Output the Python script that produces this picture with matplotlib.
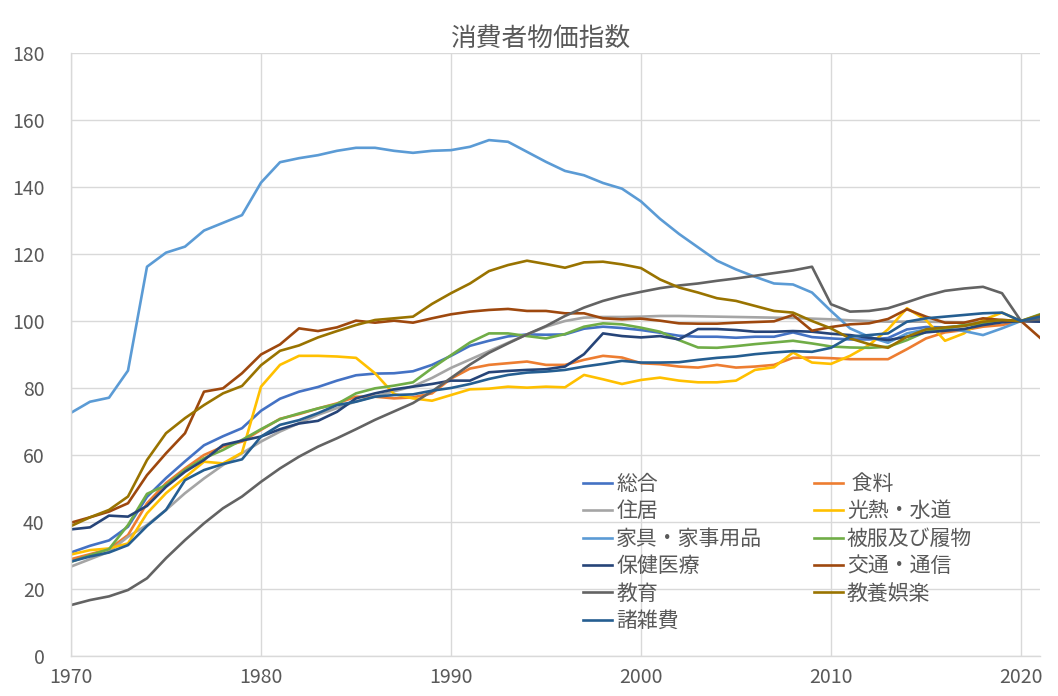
import matplotlib
matplotlib.use("Agg")
import matplotlib.pyplot as plt
import numpy as np

plt.rcParams['font.family'] = ['Noto Sans CJK JP', 'DejaVu Sans']

years = list(range(1970, 2022))

sogo = [30.9, 32.9, 34.5, 38.6, 47.5, 53.1, 58.1, 62.9, 65.6, 68.0,
        73.2, 76.8, 78.9, 80.3, 82.2, 83.8, 84.3, 84.4, 85.0, 86.9,
        89.6, 92.6, 94.1, 95.4, 96.0, 95.9, 96.0, 97.7, 98.3, 97.9,
        97.3, 96.5, 95.6, 95.3, 95.3, 95.0, 95.3, 95.3, 96.6, 95.2,
        94.8, 94.5, 94.5, 94.9, 97.5, 98.2, 98.1, 98.6, 99.5, 100.0,
        100.0, 99.8]
shokuryo = [28.9, 30.4, 31.9, 36.1, 45.6, 51.6, 56.0, 60.0, 62.5, 64.0,
            67.5, 70.8, 72.2, 73.9, 75.4, 77.4, 77.4, 76.9, 77.2, 78.4,
            82.8, 85.8, 86.9, 87.4, 87.9, 86.9, 86.9, 88.4, 89.6, 89.1,
            87.4, 87.1, 86.4, 86.1, 86.9, 86.1, 86.4, 86.9, 89.0, 89.1,
            88.9, 88.6, 88.6, 88.6, 91.6, 94.8, 96.6, 97.3, 98.3, 98.8,
            100.0, 100.0]
jukyo = [26.7, 28.9, 31.1, 35.6, 39.1, 43.6, 48.6, 53.0, 57.0, 60.5,
         64.0, 67.0, 69.5, 72.0, 74.0, 76.0, 77.5, 79.0, 80.5, 83.0,
         86.0, 88.5, 91.0, 93.5, 96.0, 98.3, 100.0, 101.0, 101.2, 101.2,
         101.3, 101.5, 101.5, 101.4, 101.3, 101.2, 101.1, 101.0, 100.9, 100.7,
         100.5, 100.2, 100.0, 99.8, 99.8, 99.8, 99.7, 99.6, 99.6, 99.8,
         100.0, 100.3]
konetsu = [30.3, 31.6, 32.1, 33.6, 42.6, 48.6, 53.3, 58.0, 57.5, 60.7,
           80.4, 86.9, 89.6, 89.6, 89.4, 89.0, 84.4, 78.2, 76.9, 76.2,
           77.9, 79.6, 79.8, 80.4, 80.1, 80.4, 80.2, 83.9, 82.6, 81.2,
           82.4, 83.1, 82.2, 81.7, 81.7, 82.2, 85.4, 86.2, 90.6, 87.6,
           87.2, 89.6, 92.8, 97.5, 103.8, 100.3, 94.1, 96.3, 100.3, 102.5,
           100.0, 101.0]
kagu = [72.6, 75.9, 77.1, 85.2, 116.2, 120.4, 122.2, 127.0, 129.3, 131.6,
        141.3, 147.4, 148.6, 149.5, 150.8, 151.7, 151.7, 150.8, 150.2, 150.8,
        151.0, 152.0, 154.0, 153.5, 150.5, 147.5, 144.8, 143.5, 141.2, 139.5,
        135.7, 130.5, 126.0, 122.0, 118.0, 115.4, 113.2, 111.2, 110.9, 108.5,
        103.0, 97.8, 95.3, 93.5, 96.3, 97.5, 97.8, 97.0, 95.8, 97.8,
        100.0, 100.5]
hifuku = [28.1, 30.1, 31.9, 39.1, 48.4, 51.0, 55.5, 59.0, 61.5, 64.5,
          67.7, 70.7, 72.4, 73.9, 75.2, 78.4, 79.9, 80.7, 81.7, 85.9,
          89.8, 93.6, 96.3, 96.3, 95.5, 94.8, 96.1, 98.3, 99.3, 99.0,
          98.0, 96.8, 94.3, 92.1, 92.0, 92.5, 93.1, 93.6, 94.1, 93.3,
          92.4, 92.1, 92.0, 92.3, 94.3, 96.8, 97.8, 98.8, 99.3, 99.8,
          100.0, 102.0]
hoken = [37.8, 38.4, 41.9, 41.6, 44.8, 50.5, 55.0, 58.5, 63.0, 64.3,
         65.5, 67.7, 69.4, 70.2, 72.9, 76.9, 78.4, 79.6, 80.4, 81.2,
         82.2, 82.2, 84.7, 85.1, 85.4, 85.6, 86.4, 90.1, 96.3, 95.5,
         95.1, 95.5, 94.5, 97.6, 97.6, 97.3, 96.8, 96.8, 97.0, 96.8,
         96.2, 95.8, 95.0, 94.3, 95.3, 96.6, 97.1, 97.6, 98.8, 99.6,
         100.0, 99.8]
kotsu = [39.8, 41.4, 43.1, 45.6, 54.0, 60.5, 66.5, 78.9, 79.9, 84.4,
         90.0, 93.0, 97.8, 97.0, 98.1, 100.1, 99.5, 100.1, 99.5, 100.8,
         102.0, 102.8, 103.3, 103.6, 103.0, 103.0, 102.3, 102.3, 100.8, 100.5,
         100.7, 100.1, 99.3, 99.2, 99.2, 99.5, 99.7, 99.9, 101.8, 97.1,
         98.2, 99.0, 99.3, 100.6, 103.5, 101.3, 99.5, 99.5, 100.8, 100.3,
         100.0, 95.0]
kyoiku = [15.2, 16.7, 17.8, 19.7, 23.2, 29.2, 34.6, 39.6, 44.1, 47.6,
          52.0, 56.0, 59.5, 62.5, 65.0, 67.7, 70.5, 73.0, 75.5, 79.0,
          83.0, 87.0, 90.5, 93.3, 96.0, 98.5, 101.5, 104.0, 106.0, 107.5,
          108.7, 109.8, 110.6, 111.2, 112.0, 112.7, 113.5, 114.3, 115.1, 116.2,
          105.0, 102.8, 103.0, 103.8, 105.6, 107.5, 109.0, 109.7, 110.2, 108.3,
          100.0, 100.5]
kyoyo = [38.8, 41.4, 43.6, 47.6, 58.5, 66.5, 71.0, 74.9, 78.4, 80.6,
         86.8, 91.1, 92.7, 95.1, 97.0, 98.8, 100.3, 100.8, 101.3, 105.1,
         108.3, 111.2, 114.9, 116.7, 118.0, 117.0, 115.9, 117.5, 117.7, 116.9,
         115.8, 112.4, 110.0, 108.5, 106.8, 106.0, 104.5, 103.0, 102.5, 100.0,
         97.8, 94.8, 93.1, 92.0, 95.3, 97.5, 98.1, 98.5, 99.8, 100.3,
         100.0, 101.8]
shozappi = [28.2, 29.7, 30.9, 33.1, 38.8, 43.6, 52.5, 55.5, 57.3, 58.7,
            65.5, 69.0, 70.4, 72.5, 74.9, 75.9, 77.4, 77.9, 78.1, 79.2,
            80.0, 81.2, 82.7, 83.9, 84.6, 84.9, 85.4, 86.4, 87.2, 88.1,
            87.6, 87.6, 87.7, 88.4, 89.0, 89.4, 90.1, 90.6, 91.0, 90.8,
            92.0, 95.3, 95.8, 96.3, 99.8, 100.8, 101.3, 101.8, 102.3, 102.5,
            100.0, 101.3]

labels = ['総合', ' 食料', '住居', '光熱・水道', '家具・家事用品', '被服及び履物',
          '保健医療', '交通・通信', '教育', '教養娯楽', '諸雑費']
series = [sogo, shokuryo, jukyo, konetsu, kagu, hifuku, hoken, kotsu, kyoiku, kyoyo, shozappi]
colors = ['#4472C4', '#ED7D31', '#A5A5A5', '#FFC000', '#5B9BD5', '#70AD47',
          '#264478', '#9E480E', '#636363', '#997300', '#255E91']

title = '消費者物価指数'
xticks = [1970, 1980, 1990, 2000, 2010, 2020]
yticks = list(range(0, 181, 20))

W, H = 1058, 696
fig = plt.figure(figsize=(W / 100, H / 100), dpi=100)
ax = fig.add_axes([71 / W, 40 / H, 969 / W, 603 / H])

handles = {}
for lab, s, c in zip(labels, series, colors):
    ln, = ax.plot(years, s, color=c, lw=1.9, solid_joinstyle='round')
    handles[lab] = ln

ax.set_xlim(1970, 2021)
ax.set_ylim(0, 180)
ax.set_xticks(xticks)
ax.set_yticks(yticks)
ax.grid(True, color='#D9D9D9', lw=1)
ax.set_axisbelow(True)
for sp in ['top', 'right']:
    ax.spines[sp].set_visible(False)
for sp in ['left', 'bottom']:
    ax.spines[sp].set_color('#D9D9D9')
    ax.spines[sp].set_linewidth(1)
ax.tick_params(axis='both', length=0, labelsize=14, colors='#595959')
ax.tick_params(axis='y', pad=19)
ax.tick_params(axis='x', pad=8)

fig.text(540 / W, 1 - 39 / H, title, ha='center', va='center', fontsize=18.5, color='#595959')

col1 = ['総合', '住居', '家具・家事用品', '保健医療', '教育', '諸雑費']
col2 = [' 食料', '光熱・水道', '被服及び履物', '交通・通信', '教養娯楽']
order = col1 + col2
leg = fig.legend([handles[l] for l in order], order, ncol=2, frameon=False,
                 loc='upper left', bbox_to_anchor=(583 / W, 1 - 473 / H),
                 fontsize=15, handlelength=1.4, handletextpad=0.2,
                 columnspacing=2.45, labelspacing=0.26, borderpad=0, borderaxespad=0)
for t in leg.get_texts():
    t.set_color('#595959')

fig.savefig('out.png', dpi=100)
